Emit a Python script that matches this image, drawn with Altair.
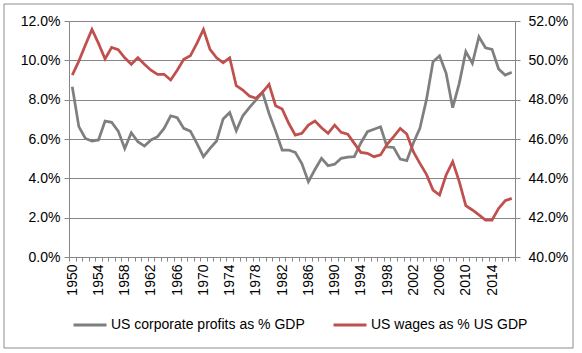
import altair as alt
import pandas as pd

years = list(range(1950, 2018))

profits_pct = [
    8.66, 6.63, 6.03, 5.90, 5.95, 6.91, 6.85, 6.40, 5.52, 6.32,
    5.86, 5.64, 5.95, 6.12, 6.54, 7.18, 7.08, 6.54, 6.40, 5.78,
    5.10, 5.52, 5.90, 7.02, 7.35, 6.42, 7.18, 7.60, 7.98, 8.37,
    7.30, 6.40, 5.44, 5.44, 5.32, 4.75, 3.83, 4.45, 5.02, 4.64,
    4.72, 5.02, 5.08, 5.10, 5.80, 6.37, 6.50, 6.62, 5.60, 5.57,
    4.98, 4.90, 5.80, 6.54, 8.00, 9.93, 10.23, 9.34, 7.59, 8.83,
    10.44, 9.85, 11.20, 10.64, 10.56, 9.56, 9.25, 9.39,
]

wages_pct = [
    49.25, 49.96, 50.78, 51.57, 50.86, 50.07, 50.66, 50.54, 50.13, 49.80,
    50.13, 49.80, 49.50, 49.29, 49.29, 49.00, 49.50, 50.05, 50.23, 50.86,
    51.57, 50.56, 50.13, 49.88, 50.13, 48.71, 48.49, 48.18, 48.07, 48.37,
    48.78, 47.69, 47.52, 46.80, 46.20, 46.29, 46.71, 46.91, 46.57, 46.29,
    46.71, 46.34, 46.24, 45.78, 45.32, 45.27, 45.10, 45.19, 45.73, 46.12,
    46.54, 46.25, 45.35, 44.76, 44.20, 43.40, 43.15, 44.17, 44.85, 43.83,
    42.61, 42.39, 42.14, 41.88, 41.88, 42.47, 42.86, 42.98,
]

series_names = ["US corporate profits as % GDP", "US wages as % US GDP"]
series_colors = ["#7f7f7f", "#c0504d"]

label_years = list(range(1950, 2018, 4))
tick_bounds = [y - 0.5 for y in years] + [years[-1] + 0.5]
left_ticks = [0, 0.02, 0.04, 0.06, 0.08, 0.10, 0.12]
right_ticks = [0.40, 0.42, 0.44, 0.46, 0.48, 0.50, 0.52]

df = pd.DataFrame({
    "year": years * 2,
    "value": [v / 100 for v in profits_pct] + [v / 100 for v in wages_pct],
    "series": [series_names[0]] * len(years) + [series_names[1]] * len(years),
})

FONT = "Liberation Sans"
AX = "#868686"

xscale = alt.Scale(domain=[years[0] - 0.5, years[-1] + 0.5], nice=False, zero=False)

color = alt.Color(
    "series:N",
    scale=alt.Scale(domain=series_names, range=series_colors),
    legend=alt.Legend(
        title=None, orient="none", direction="horizontal",
        legendX=3, legendY=286, padding=0,
        symbolType="stroke", symbolSize=1089, symbolStrokeWidth=3,
        labelFont=FONT, labelFontSize=14, labelColor="#000000",
        labelOffset=3, columnPadding=22, labelLimit=400,
    ),
)

base = alt.Chart(df)

gray = base.transform_filter(alt.datum.series == series_names[0]).mark_line(
    strokeWidth=2.75
).encode(
    x=alt.X("year:Q", scale=xscale, axis=alt.Axis(
        orient="bottom", values=label_years, format="d", labelAngle=-90,
        ticks=False, domain=True, domainColor=AX, grid=False, title=None,
        labelFont=FONT, labelFontSize=14, labelColor="#000000", labelPadding=7,
        labelFlush=False, labelOverlap=False,
    )),
    y=alt.Y("value:Q", scale=alt.Scale(domain=[0, 0.12], nice=False), axis=alt.Axis(
        orient="left", values=left_ticks, format=".1%", title=None,
        grid=True, gridColor=AX, domainColor=AX, tickColor=AX, tickSize=5,
        labelFont=FONT, labelFontSize=14, labelColor="#000000", labelPadding=4,
    )),
    color=color,
)

red = base.transform_filter(alt.datum.series == series_names[1]).mark_line(
    strokeWidth=2.75
).encode(
    x=alt.X("year:Q", scale=xscale, axis=alt.Axis(
        orient="bottom", values=tick_bounds, labels=False, ticks=True,
        tickSize=4, tickColor=AX, domain=False, grid=False, title=None,
    )),
    y=alt.Y("value:Q", scale=alt.Scale(domain=[0.40, 0.52], nice=False), axis=alt.Axis(
        orient="right", values=right_ticks, format=".1%", title=None,
        grid=False, domainColor=AX, tickColor=AX, tickSize=5,
        labelFont=FONT, labelFontSize=14, labelColor="#000000", labelPadding=8,
    )),
    color=color,
)

border = alt.Chart(pd.DataFrame({"k": [0]})).mark_rect(
    filled=False, stroke="#8c8c8c", strokeWidth=1
).encode(
    x=alt.value(-65), x2=alt.value(504), y=alt.value(-17), y2=alt.value(327)
)

chart = alt.layer(gray, red, border).resolve_scale(
    y="independent"
).resolve_axis(x="independent").properties(
    width=446, height=236,
    autosize=alt.AutoSizeParams(type="none"),
    padding={"left": 69, "top": 21, "right": 67, "bottom": 96},
    background="#ffffff",
).configure_view(stroke=None)

chart.save("out.html", embed_options={"renderer": "svg", "actions": False})
